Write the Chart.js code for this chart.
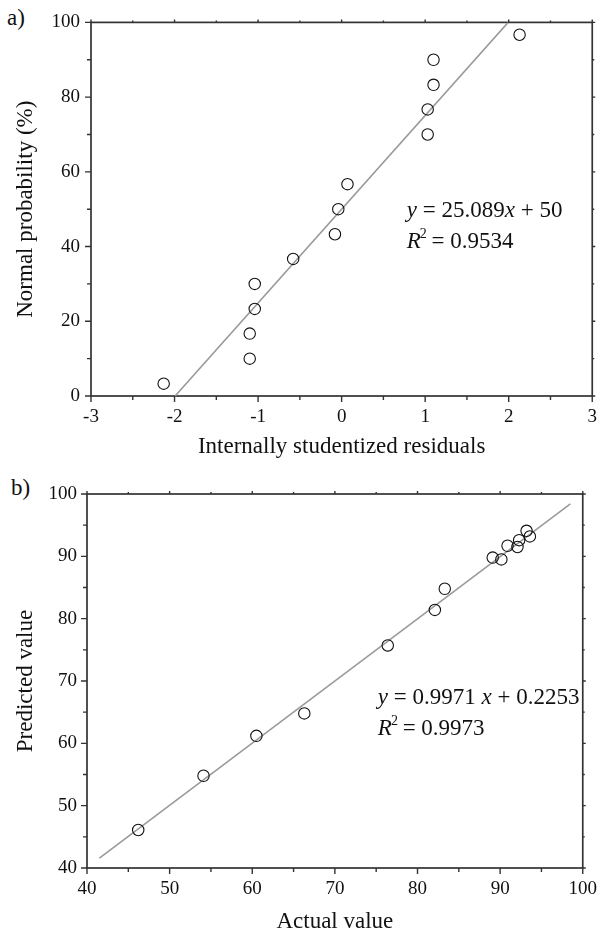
<!DOCTYPE html>
<html><head><meta charset="utf-8">
<script src="https://cdn.jsdelivr.net/npm/chart.js@4"></script>
<style>
body{margin:0;background:#fff;width:607px;height:933px;overflow:hidden;position:relative}
canvas{position:absolute;left:0}
.lab{position:absolute;font-family:'Liberation Serif',serif;font-size:23px;color:#111;line-height:1}
</style>
</head><body>
<div class="lab" style="left:7px;top:6px">a)</div>
<div class="lab" style="left:11px;top:476px">b)</div>
<canvas id="c1" width="607" height="470" style="top:0"></canvas>
<canvas id="c2" width="607" height="470" style="top:470px"></canvas>
<script>
// ---- Chart a) data ----
const residuals = [-2.13,-1.10,-1.10,-1.04,-1.04,-0.58,-0.08,-0.04,0.07,1.03,1.03,1.10,1.10,2.13];
const normalProb = [3.3,10.0,16.7,23.3,30.0,36.7,43.3,50.0,56.7,70.0,76.7,83.3,90.0,96.7];
const fitAX = [-1.993, 1.993];
const fitAY = [0, 100];
const xTicksA = [-3,-2,-1,0,1,2,3];
const xMinorA = [-2.5,-1.5,-0.5,0.5,1.5,2.5];
const yTicksA = [0,20,40,60,80,100];
const yMinorA = [10,30,50,70,90];

// ---- Chart b) data ----
const actualVal = [46.2,54.1,60.5,66.3,76.4,82.1,83.3,89.1,90.15,90.9,92.1,92.3,93.2,93.6];
const predictedVal = [46.1,54.8,61.2,64.8,75.7,81.4,84.8,89.8,89.5,91.7,91.5,92.6,94.1,93.2];
const fitBX = [41.5, 98.5];
const fitBY = [41.6, 98.4];
const xTicksB = [40,50,60,70,80,90,100];
const xMinorB = [45,55,65,75,85,95];
const yTicksB = [40,50,60,70,80,90,100];
const yMinorB = [45,55,65,75,85,95];

const FONT = "'Liberation Serif', 'Times New Roman', serif";
const AXIS = '#333';

const framePlugin = {
  id: 'frame',
  beforeDatasetsDraw(chart, args, o) {
    const {ctx, chartArea: a, scales: {x, y}} = chart;
    ctx.save();
    ctx.strokeStyle = AXIS; ctx.lineWidth = 1.7; ctx.lineCap = 'butt';
    ctx.strokeRect(a.left, a.top, a.right - a.left, a.bottom - a.top);
    ctx.lineWidth = 1.4;
    const tx = (vals, len) => vals.forEach(v => {
      const p = x.getPixelForValue(v);
      ctx.beginPath();
      ctx.moveTo(p, a.bottom); ctx.lineTo(p, a.bottom + len);
      ctx.moveTo(p, a.top); ctx.lineTo(p, a.top - len * 0.5);
      ctx.stroke();
    });
    const ty = (vals, len) => vals.forEach(v => {
      const p = y.getPixelForValue(v);
      ctx.beginPath();
      ctx.moveTo(a.left, p); ctx.lineTo(a.left - len, p);
      ctx.moveTo(a.right, p); ctx.lineTo(a.right + len * 0.5, p);
      ctx.stroke();
    });
    tx(o.xMajor, 6); tx(o.xMinor, 4);
    ty(o.yMajor, 6); ty(o.yMinor, 4);
    ctx.restore();
  }
};

const eqPlugin = {
  id: 'eq',
  afterDraw(chart, args, o) {
    const {ctx, scales: {x, y}} = chart;
    ctx.save();
    ctx.fillStyle = '#111';
    ctx.textBaseline = 'alphabetic';
    o.lines.forEach(line => {
      let px = x.getPixelForValue(line.x);
      const py = y.getPixelForValue(line.y);
      line.parts.forEach(p => {
        if (p.sup) {
          ctx.font = `14px ${FONT}`;
          ctx.fillText(p.t, px - 1, py - 10);
          px += ctx.measureText(p.t).width - 2;
        } else {
          ctx.font = `${p.i ? 'italic ' : ''}23px ${FONT}`;
          ctx.fillText(p.t, px, py);
          px += ctx.measureText(p.t).width;
        }
      });
    });
    ctx.restore();
  }
};

function makeChart(id, cfg) {
  const pts = cfg.xs.map((v, i) => ({x: v, y: cfg.ys[i]}));
  const fit = cfg.fx.map((v, i) => ({x: v, y: cfg.fy[i]}));
  return new Chart(document.getElementById(id), {
    type: 'scatter',
    data: {datasets: [
      {data: fit, showLine: true, borderColor: '#9a9a9a', borderWidth: 1.6, pointRadius: 0, order: 2},
      {data: pts, pointRadius: 5.7, pointBorderWidth: 1.1, pointBorderColor: '#111', pointBackgroundColor: 'rgba(0,0,0,0)', order: 1}
    ]},
    options: {
      responsive: false, animation: false, devicePixelRatio: 1,
      layout: {padding: {top: cfg.padTop, right: cfg.padRight, left: 0, bottom: 0}},
      plugins: {legend: {display: false}, tooltip: {enabled: false},
        frame: {xMajor: cfg.xt, xMinor: cfg.xm, yMajor: cfg.yt, yMinor: cfg.ym},
        eq: {lines: cfg.eq}},
      scales: {
        x: {type: 'linear', min: cfg.xt[0], max: cfg.xt[cfg.xt.length - 1],
          grid: {display: false, drawTicks: false}, border: {display: false},
          afterBuildTicks: s => { s.ticks = cfg.xt.map(v => ({value: v})); },
          afterFit: s => { s.height = cfg.xH; },
          ticks: {padding: 10, color: '#111', font: {family: FONT, size: 19}, maxRotation: 0, autoSkip: false},
          title: {display: true, text: cfg.xTitle, color: '#111', font: {family: FONT, size: 23}, padding: {top: 0, bottom: cfg.xTitlePad}}},
        y: {type: 'linear', min: cfg.yt[0], max: cfg.yt[cfg.yt.length - 1],
          grid: {display: false, drawTicks: false}, border: {display: false},
          afterBuildTicks: s => { s.ticks = cfg.yt.map(v => ({value: v})); },
          afterFit: s => { s.width = cfg.yW; },
          ticks: {padding: cfg.yTickPad, color: '#111', font: {family: FONT, size: 19}, autoSkip: false},
          title: {display: true, text: cfg.yTitle, color: '#111', font: {family: FONT, size: 23}, padding: {top: 12, bottom: 0}}}
      }
    },
    plugins: [framePlugin, eqPlugin]
  });
}

makeChart('c1', {
  xs: residuals, ys: normalProb, fx: fitAX, fy: fitAY,
  xt: xTicksA, xm: xMinorA, yt: yTicksA, ym: yMinorA,
  padTop: 21, padRight: 13, xH: 74, yW: 91, yTickPad: 11, xTitlePad: 9,
  xTitle: 'Internally studentized residuals', yTitle: 'Normal probability (%)',
  eq: [
    {x: 0.78, y: 48, parts: [{t: 'y', i: true}, {t: ' = 25.089'}, {t: 'x', i: true}, {t: ' + 50'}]},
    {x: 0.78, y: 39.7, parts: [{t: 'R', i: true}, {t: '2', sup: true}, {t: ' = 0.9534'}]}
  ]
});

makeChart('c2', {
  xs: actualVal, ys: predictedVal, fx: fitBX, fy: fitBY,
  xt: xTicksB, xm: xMinorB, yt: yTicksB, ym: yMinorB,
  padTop: 24, padRight: 16, xH: 72, yW: 87, yTickPad: 10, xTitlePad: 4,
  xTitle: 'Actual value', yTitle: 'Predicted value',
  eq: [
    {x: 75.2, y: 66.3, parts: [{t: 'y', i: true}, {t: ' = 0.9971 '}, {t: 'x', i: true}, {t: ' + 0.2253'}]},
    {x: 75.2, y: 61.3, parts: [{t: 'R', i: true}, {t: '2', sup: true}, {t: ' = 0.9973'}]}
  ]
});
</script>
</body></html>
